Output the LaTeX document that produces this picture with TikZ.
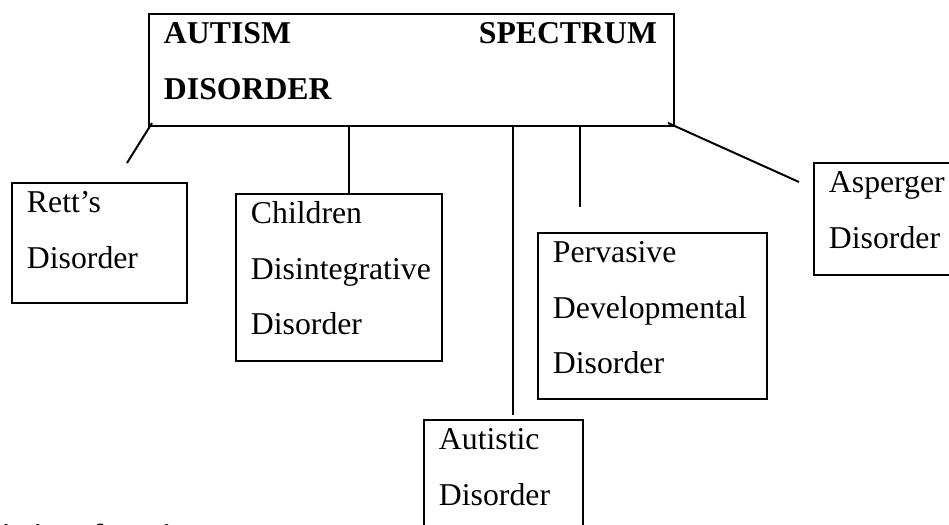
\documentclass[tikz,border=0pt]{standalone}
\usepackage{fontspec}
\setmainfont{Liberation Serif}
\newdimen\pxu \pxu=0.378pt
\newcommand{\boxlines}[3]{\parbox[t][#2\pxu][t]{#1\pxu}{\fontsize{12}{20.8}\selectfont\vspace*{1.34pt}\leftskip=5.67pt\rule{0pt}{10pt}#3}}

\begin{document}
\begin{tikzpicture}[x=0.378pt,y=-0.378pt]

% Definitions
\tikzstyle{Disbox} = [rectangle, draw=black, line width=0.75pt, inner sep=0pt, anchor=north west]
\tikzstyle{branch} = [line width=0.75pt]

\useasboundingbox (0,0) rectangle (949,525);
\clip (0,0) rectangle (949,525);

\node (asd) [Disbox] at (148,13) {\boxlines{525}{112}{\bfseries\makebox[493\pxu][l]{AUTISM\hfill SPECTRUM}\\DISORDER}};

\node (rett) [Disbox] at (11,182) {\boxlines{175}{120}{Rett's\\Disorder}};
\node (cdd) [Disbox] at (235,193) {\boxlines{206}{167}{Children\\Disintegrative\\Disorder}};
\node (pdd) [Disbox] at (537,232) {\boxlines{229}{166}{Pervasive\\Developmental\\Disorder}};
\node (ad) [Disbox] at (423,419) {\boxlines{159}{140}{Autistic\\Disorder}};
\node (asp) [Disbox] at (813,162) {\boxlines{142}{112}{Asperger\\Disorder}};

\node (title) [anchor=base west, inner sep=0pt, font=\bfseries\fontsize{12}{14}\selectfont] at (1,547) {istics of Autism};

\coordinate (rettend) at (127,163);
\coordinate (pddend) at (580,207);
\coordinate (aspend) at (799,182);
\coordinate (cddtop) at ([xshift=10\pxu]cdd.north);
\coordinate (adtop) at ([xshift=9.5\pxu,yshift=4\pxu]ad.north);

\draw [branch] ([shift={(4,-4)}]asd.south west) -- (rettend);
\draw [branch] (cddtop |- asd.south) -- (cddtop);
\draw [branch] (adtop |- asd.south) -- (adtop);
\draw [branch] (pddend |- asd.south) -- (pddend);
\draw [branch] ([shift={(-7,-4)}]asd.south east) -- (aspend);

\end{tikzpicture}
\end{document}
